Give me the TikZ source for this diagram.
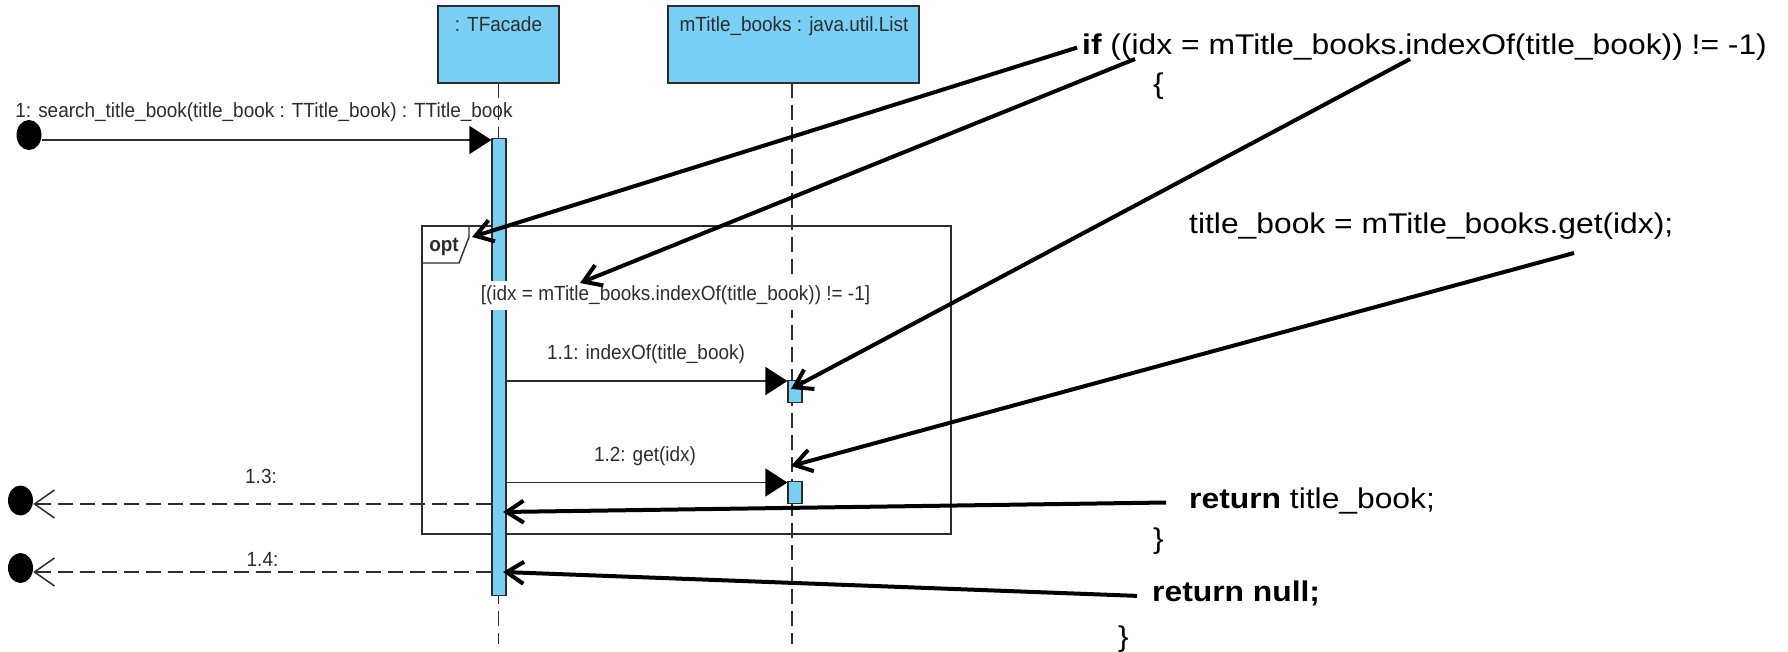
\documentclass[tikz,border=0pt]{standalone}
\usepackage{fontspec}
\setmainfont{Liberation Sans}
\newfontfamily\umlfont[FakeStretch=0.925]{Liberation Sans}
\newfontfamily\codefont[FakeStretch=1.116]{Liberation Sans}
\usetikzlibrary{arrows.meta,shapes.geometric}
\definecolor{lifeblue}{RGB}{122,207,245}
\definecolor{umlgray}{RGB}{45,45,45}

\begin{document}
\begin{tikzpicture}[x=1pt,y=-1pt,
  umltext/.style={font=\umlfont\fontsize{20.5}{24}\selectfont, text=umlgray, inner sep=0pt, anchor=base},
  codetext/.style={font=\codefont\fontsize{28.5}{34}\selectfont, inner sep=0pt, anchor=base west},
  headbox/.style={draw=umlgray, line width=1.6pt, fill=lifeblue, inner sep=0pt},
  actbar/.style={draw=umlgray, line width=1.2pt, fill=lifeblue, inner sep=0pt, anchor=north},
  lifeline/.style={draw=umlgray, line width=1.3pt, dash pattern=on 15pt off 7pt},
  callmsg/.style={draw=umlgray, line width=1.5pt, -{Triangle[length=22pt,width=28pt,color=black]}},
  retmsg/.style={draw=umlgray, line width=1.5pt, dash pattern=on 15pt off 7pt, -{Straight Barb[length=20pt,width=28pt]}},
  enddot/.style={ellipse, fill=black, inner sep=0pt, minimum width=25pt, minimum height=30pt},
  note/.style={draw=black, line width=4pt, -{Straight Barb[length=17pt,width=22pt]}},
]
\useasboundingbox[fill=white] (0,0) rectangle (1788,652);

% lifeline heads
\node[headbox, minimum width=121pt, minimum height=77pt] (tf) at (498.5,44.5) {};
\node[headbox, minimum width=251pt, minimum height=77pt] (ml) at (793.5,44.5) {};
\node[umltext] (tfname) at (498.5,32) {: TFacade};
\node[umltext] (mlname) at (794,32) {mTitle\_books : java.util.List};

% dashed lifelines
\draw[lifeline] (498.5,83) -- (498.5,644);
\draw[lifeline] (792,83) -- (792,644);

% opt combined fragment
\node[draw=umlgray, line width=1.6pt, minimum width=529pt, minimum height=308pt, inner sep=0pt, anchor=north west] (opt) at (421,225) {};
\draw[draw=umlgray, line width=1.4pt] (421,263) -- (459,263) -- (469,237) -- (469,225);
\node[umltext, font=\umlfont\bfseries\fontsize{20.5}{24}\selectfont] (optlbl) at (444,251.5) {opt};

% activation bars
\node[actbar, minimum width=14pt, minimum height=457pt] (bar) at (499,138) {};
\node[actbar, minimum width=14pt, minimum height=22pt] (act1) at (795,380) {};
\node[actbar, minimum width=14pt, minimum height=22pt] (act2) at (795,481) {};

% guard
\node[umltext, fill=white, inner xsep=2pt, inner ysep=5pt] (guard) at (675.5,301) {[(idx = mTitle\_books.indexOf(title\_book)) != -1]};

% found / lost message ends
\node[enddot] (dot1) at (29,135) {};
\node[enddot] (dot3) at (20.5,500.5) {};
\node[enddot] (dot4) at (20.5,568) {};

\coordinate (y1) at (0,140);
\coordinate (y11) at (0,381);
\coordinate (y12) at (0,482.5);
\coordinate (y13) at (0,504);
\coordinate (y14) at (0,572);

% messages
\draw[callmsg] (dot1.east |- y1) -- (bar.west |- y1);
\node[umltext] (m1) at (264,118) {1: search\_title\_book(title\_book : TTitle\_book) : TTitle\_book};
\draw[callmsg] (bar.east |- y11) -- (act1.west |- y11);
\node[umltext] (m11) at (646,359) {1.1: indexOf(title\_book)};
\draw[callmsg] (bar.east |- y12) -- (act2.west |- y12);
\node[umltext] (m12) at (645,461.5) {1.2: get(idx)};
\draw[retmsg] (bar.west |- y13) -- (dot3.east |- y13);
\node[umltext] (m13) at (261,483) {1.3:};
\draw[retmsg] (bar.west |- y14) -- (dot4.east |- y14);
\node[umltext] (m14) at (262.5,566.5) {1.4:};

% source code
\node[codetext] (c1) at (1082,55) {{\bfseries if} ((idx = mTitle\_books.indexOf(title\_book)) != -1)};
\node[codetext] (c2) at (1153,94) {\{};
\node[codetext] (c3) at (1189,234) {title\_book = mTitle\_books.get(idx);};
\node[codetext] (c4) at (1189,508) {{\bfseries return} title\_book;};
\node[codetext] (c5) at (1153,548) {\}};
\node[codetext] (c6) at (1152,601) {\bfseries return null;};
\node[codetext] (c7) at (1118,646) {\}};

% pointers from the code to the diagram
\coordinate (s2) at (1135,59);
\coordinate (s3) at (1410,59);
\coordinate (s4) at (1574,253);
\coordinate (t1) at (472,237);
\coordinate (t2) at (580,283);
\coordinate (t3) at (791,389);
\coordinate (t4) at (791,466);
\coordinate (t5) at (503,512);
\coordinate (t6) at (503,572);
\draw[note] ([xshift=-5pt]c1.west) -- (t1);
\draw[note] (s2) -- (t2);
\draw[note] (s3) -- (t3);
\draw[note] (s4) -- (t4);
\draw[note] ([xshift=-23pt,yshift=-2pt]c4.west) -- (t5);
\draw[note] ([xshift=-15pt,yshift=-3pt]c6.west) -- (t6);
\end{tikzpicture}
\end{document}
